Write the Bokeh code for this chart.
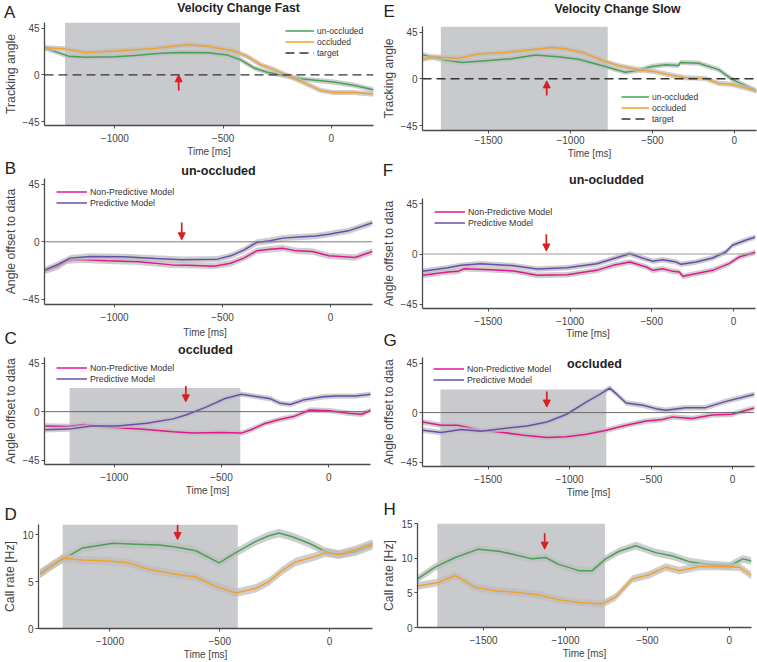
import numpy as np
from bokeh.plotting import figure
from bokeh.models import (Range1d, FixedTicker, Label, Legend, LegendItem, Arrow,
                          NormalHead, Span)
from bokeh.layouts import column, row
from bokeh.embed import file_html
from bokeh.resources import INLINE

# ---------------- data ----------------
x_fast = [-1325, 195]
x_slow = [-1903, 135]
ticks_fast = [-1000, -500, 0]
ticks_slow = [-1500, -1000, -500, 0]
ticks_angle = [-45, 0, 45]
ticks_rate_fast = [0, 5, 10]
ticks_rate_slow = [0, 5, 10, 15]

# A: tracking angle, fast
a_un_t = [-1325, -1214, -1138, -1000, -908, -786, -694, -571, -479, -418, -357, -296, -204, -142, 10, 103, 195]
a_un_v = [26, 18, 17, 17.5, 18.5, 20.7, 21.6, 21.3, 19, 14.4, 6.6, 2.5, -1.3, -3.8, -7, -10, -14.4]
a_oc_t = [-1325, -1230, -1138, -1000, -832, -694, -663, -571, -449, -387, -326, -265, -188, -112, -50, 10, 103, 195]
a_oc_v = [26, 25, 21.6, 23, 25, 28.5, 29, 27.6, 23, 17.5, 9.7, 5, -2, -9, -15, -17, -17, -18.5]

# E: tracking angle, slow
e_un_t = [-1903, -1765, -1663, -1500, -1358, -1215, -1073, -950, -788, -666, -584, -503, -421, -340, -330, -218, -96, -14, 135]
e_un_v = [23, 18, 15.7, 17.5, 19.4, 22.9, 21.3, 18.8, 11.9, 6.3, 8.2, 11.9, 13.5, 12.9, 15.7, 15, 8.8, -0.6, -11.6]
e_oc_t = [-1903, -1826, -1683, -1561, -1398, -1256, -1113, -1032, -910, -788, -706, -584, -482, -401, -299, -177, -96, -14, 135]
e_oc_v = [18.8, 21, 19.7, 23.8, 25.4, 27.6, 30, 29, 24.5, 16.6, 12.5, 8.8, 6.9, 4, 1, 0.3, -4.4, -5.3, -11.6]

# B: model offset, un-occluded, fast
b_np_t = [-1322, -1265, -1220, -1159, -1038, -886, -735, -659, -538, -462, -402, -341, -280, -220, -159, -83, -8, 114, 195]
b_np_v = [-22.8, -19.6, -14.9, -13.9, -14.9, -15.7, -18.1, -18.3, -19.1, -16.8, -12.8, -7.1, -5.8, -5, -7.1, -7.6, -11, -12.3, -7.6]
b_pr_t = [-1322, -1265, -1205, -1114, -962, -811, -689, -523, -462, -402, -341, -280, -220, -129, -68, -8, 83, 195]
b_pr_v = [-22, -18, -12.8, -11.5, -11.8, -13.1, -14.1, -13.6, -11, -6.5, -0.5, 0.8, 2.9, 3.9, 4.5, 6, 8.6, 14.9]

# C: model offset, occluded, fast
c_np_t = [-1322, -1213, -1137, -1030, -878, -726, -635, -498, -407, -362, -301, -225, -164, -88, 3, 94, 155, 198]
c_np_v = [-13.2, -13.8, -11.9, -14.4, -16.2, -18.7, -19.9, -19.3, -19.9, -16.8, -11.3, -7, -4.6, 1.5, 0.9, -1.5, -2.4, 1.5]
c_pr_t = [-1322, -1213, -1106, -985, -848, -726, -666, -574, -483, -407, -331, -271, -225, -179, -119, -27, 33, 125, 198]
c_pr_v = [-16.8, -16.2, -13.2, -13.2, -10.7, -6.7, -3.1, 4, 12.2, 16.2, 13.8, 11.9, 7.7, 6.7, 10.7, 13.8, 14.4, 14.4, 16.2]

# D: call rate, fast
d_un_t = [-1318, -1261, -1200, -1124, -1064, -988, -882, -776, -700, -609, -503, -427, -336, -276, -230, -170, -94, -18, 42, 118, 198]
d_un_v = [5.9, 6.8, 7.6, 8.6, 8.8, 9.1, 9.0, 8.9, 8.7, 8.3, 7.0, 8.1, 9.3, 9.9, 10.2, 9.8, 9.1, 8.2, 7.9, 8.2, 8.9]
d_oc_t = [-1318, -1215, -1124, -1003, -912, -821, -700, -609, -518, -427, -336, -276, -215, -155, -64, -18, 42, 118, 198]
d_oc_v = [5.8, 7.5, 7.3, 7.2, 7.0, 6.3, 5.8, 5.5, 4.5, 3.8, 4.3, 5.0, 6.2, 7.1, 7.7, 8.1, 7.9, 8.4, 9.1]

# F: model offset, un-occluded, slow
f_np_t = [-1903, -1748, -1687, -1647, -1485, -1343, -1201, -1019, -837, -736, -634, -533, -493, -432, -371, -331, -310, -209, -128, -27, 34, 135]
f_np_v = [-19.2, -16.2, -15.6, -13.2, -14.1, -15.3, -19.2, -18.6, -14.7, -10.2, -7.2, -11.7, -14.7, -13.2, -15.6, -16.2, -20.1, -17.1, -14.7, -8.7, -2.7, 1.5]
f_pr_t = [-1903, -1748, -1667, -1546, -1343, -1201, -1019, -837, -736, -634, -533, -493, -432, -351, -320, -229, -128, -47, -6, 74, 135]
f_pr_v = [-15.6, -12.3, -10.2, -8.7, -10.5, -13.5, -12.3, -8.7, -4.2, 0.3, -4.8, -6.6, -5.1, -7.2, -9.3, -7.2, -3.6, 1.8, 7.8, 12.3, 15.3]

# G: model offset, occluded, slow
g_np_t = [-1903, -1788, -1687, -1545, -1423, -1281, -1139, -1018, -896, -774, -673, -531, -430, -369, -247, -126, -4, 135]
g_np_v = [-8.5, -11.5, -11.5, -16, -17.8, -20.5, -22.7, -22, -19.6, -16, -12.1, -7.6, -6.3, -3.9, -5.4, -2.1, -1.5, 4.2]
g_pr_t = [-1903, -1788, -1666, -1545, -1403, -1261, -1139, -1018, -896, -815, -754, -714, -653, -551, -470, -409, -288, -166, -45, 135]
g_pr_v = [-16, -18.1, -15.4, -16.9, -14.5, -12.1, -8.5, -1.5, 9.7, 16.6, 22.3, 17.2, 8.8, 6.6, 3.6, 2.1, 4.5, 4.5, 10, 16.6]

# H: call rate, slow
h_un_t = [-1903, -1796, -1673, -1531, -1408, -1327, -1204, -1122, -1041, -918, -837, -755, -673, -571, -449, -347, -245, -122, 0, 82, 135]
h_un_v = [7.0, 8.7, 10.1, 11.3, 11.0, 10.6, 9.9, 10.1, 9.1, 8.2, 8.2, 9.9, 11.0, 11.8, 10.8, 10.3, 9.5, 9.1, 8.9, 9.9, 9.6]
h_oc_t = [-1903, -1776, -1673, -1551, -1429, -1306, -1163, -1041, -918, -776, -694, -592, -490, -388, -306, -184, -61, 61, 135]
h_oc_v = [6.0, 6.5, 7.5, 5.8, 5.3, 5.1, 4.7, 4.0, 3.6, 3.4, 4.4, 7.0, 7.6, 8.7, 8.2, 8.8, 8.8, 8.7, 7.5]

sem_angle = 2.5
sem_rate_fast = 0.45
sem_rate_slow = 0.55

# y ranges of the panels
yr_A = [-48.8, 50.4]
yr_E = [-49.7, 50.3]
yr_B = [-49.2, 49.7]
yr_F = [-49.0, 49.9]
yr_C = [-49.0, 50.2]
yr_G = [-49.0, 50.1]
yr_D = [0, 11.1]
yr_H = [0, 15]

# occlusion windows: [start, end, top]
occ_A = [-1230, -422, 50.4]
occ_C = [-1208, -412, 22]
occ_D = [-1215, -418, 11.1]
occ_E = [-1791, -773, 50.3]
occ_G = [-1793, -775, 21]
occ_H = [-1782, -759, 15]

# red arrows: [time, y_start, y_end]
arr_A = [-705, -15, 0]
arr_E = [-1145, -16, -2]
arr_B = [-689, 15.2, 1.6]
arr_F = [-1145, 17.8, 2.7]
arr_C = [-666, 23.7, 9.1]
arr_G = [-1140, 19.3, 5.1]
arr_D = [-692, 11.1, 9.5]
arr_H = [-1127, 13.6, 11.3]

target_angle = 0

# ---------------- style / geometry (page pixels) ----------------
FONT = "Liberation Sans"
GREEN = "#46a057"
ORANGE = "#f2a12c"
PINK = "#e3168c"
PURPLE = "#6a4cae"
BOXC = "#c9cacd"
BANDC = "#bdbdbd"
RED = "#d8201f"
AXC = "#4a4a4a"
TXC = "#444444"
MID = 0.35   # cap-centre above the baseline, in em
LETTER = 17

COLS = {"L": (0, 378), "R": (378, 757)}


def R(v):
    return int(round(v))


def col_width(c):
    x0, x1 = COLS[c]
    return x1 - x0


def make_strip(c, y0, y1, texts):
    x0, _ = COLS[c]
    h = y1 - y0
    p = figure(width=col_width(c), height=h, x_range=Range1d(0, 1), y_range=Range1d(0, 1),
               output_backend="svg", toolbar_location=None, title_location=None,
               x_axis_location=None, y_axis_location=None, frame_align=False,
               min_border_left=0, min_border_right=0, min_border_top=0, min_border_bottom=0)
    p.outline_line_color = None
    p.xgrid.visible = False
    p.ygrid.visible = False
    for text, xr, base, size, bold, align in texts:
        yc = base - MID * size
        p.add_layout(Label(x=xr - x0, y=y1 - yc, x_units="screen", y_units="screen",
                           text=text, text_font=FONT, text_font_size=f"{size}px",
                           text_font_style="bold" if bold else "normal",
                           text_color="#222222" if size > 11 else TXC,
                           text_align=align, text_baseline="middle"))
    return p


def make_fig(c, y0, y1, ftop, fbot, fl, fr, xr, yr, xticks, yticks, ylabel, xlabel=True,
             xstand=5, xlstand=1):
    x0, _ = COLS[c]
    W = col_width(c)
    bl = R(fl - x0)
    br = W - R(fr - x0)
    bt = R(ftop - y0)
    bb = R(y1 - fbot)
    p = figure(width=W, height=y1 - y0, x_range=Range1d(*xr), y_range=Range1d(*yr),
               output_backend="svg", toolbar_location=None, title_location=None, frame_align=False,
               min_border_left=bl, min_border_right=br, min_border_top=bt, min_border_bottom=bb)
    p.outline_line_color = None
    p.xgrid.visible = False
    p.ygrid.visible = False
    p.background_fill_color = "white"
    p.border_fill_color = "white"
    xa = p.xaxis[0]
    ya = p.yaxis[0]
    xa.ticker = FixedTicker(ticks=xticks)
    ya.ticker = FixedTicker(ticks=yticks)
    for ax in (xa, ya):
        ax.axis_line_color = AXC
        ax.axis_line_width = 1.3
        ax.major_tick_line_color = AXC
        ax.major_tick_out = 3
        ax.major_tick_in = 0
        ax.minor_tick_line_color = None
        ax.major_label_text_font = FONT
        ax.major_label_text_font_size = "10px"
        ax.major_label_text_color = TXC
        ax.axis_label_text_font = FONT
        ax.axis_label_text_font_style = "normal"
        ax.axis_label_text_color = TXC
    if xlabel:
        xa.axis_label = "Time [ms]"
    xa.axis_label_text_font_size = "10px"
    xa.major_label_standoff = xstand
    xa.axis_label_standoff = xlstand
    ya.axis_label = ylabel
    ya.axis_label_text_font_size = "12.3px"
    ya.major_label_standoff = 2
    ya.axis_label_standoff = 2
    p._frame_ref = (y0 + bt, y1 - bb, x0 + bl)
    return p


def add_box(p, occ):
    p.quad(left=[occ[0]], right=[occ[1]], bottom=[p.y_range.start], top=[occ[2]],
           fill_color=BOXC, line_color=None)


def add_series(p, t, v, sem, color):
    t = np.array(t, dtype=float)
    v = np.array(v, dtype=float)
    p.varea(x=t, y1=v - sem, y2=v + sem, fill_color=BANDC, fill_alpha=0.75)
    return p.line(t, v, line_color=color, line_width=1.5)


def add_arrow(p, a):
    p.add_layout(Arrow(end=NormalHead(size=7, fill_color=RED, line_color=RED, line_width=1),
                       x_start=a[0], y_start=a[1], x_end=a[0], y_end=a[2],
                       line_color=RED, line_width=1.7))


def add_legend(p, items, glyph_left, row1, gw, pitch, size):
    ftop, fbot, fl = p._frame_ref
    fh = fbot - ftop
    top = (row1 - ftop) - pitch / 2
    loc_y = fh - top - len(items) * pitch
    loc_x = glyph_left - fl
    leg = Legend(items=[LegendItem(label=l, renderers=[r]) for l, r in items],
                 location=(R(loc_x), R(loc_y)))
    leg.border_line_color = None
    leg.background_fill_alpha = 0
    leg.padding = 0
    leg.margin = 0
    leg.spacing = 0
    leg.glyph_width = R(gw)
    leg.glyph_height = pitch
    leg.label_height = pitch
    leg.label_standoff = 3
    leg.label_text_font = FONT
    leg.label_text_font_size = f"{size}px"
    leg.label_text_color = "#333333"
    leg.label_text_baseline = "middle"
    p.add_layout(leg)


def add_frame_text(p, text, xc, base, size):
    ftop, fbot, fl = p._frame_ref
    yc = base - MID * size
    p.add_layout(Label(x=xc - fl, y=fbot - yc, x_units="screen", y_units="screen",
                       text=text, text_font=FONT, text_font_size=f"{size}px", text_font_style="bold",
                       text_color="#222222", text_align="center", text_baseline="middle"))


# ================= left column =================
sA = make_strip("L", 0, 22, [("A", 3.5, 18.0, LETTER, False, "left"),
                             ("Velocity Change Fast", 238, 11.5, 12.2, True, "center")])
pA = make_fig("L", 22, 159, 22, 127.3, 42, 373, x_fast, yr_A, ticks_fast, ticks_angle, "Tracking angle")
add_box(pA, occ_A)
rA1 = add_series(pA, a_un_t, a_un_v, sem_angle, GREEN)
rA2 = add_series(pA, a_oc_t, a_oc_v, sem_angle, ORANGE)
rA3 = pA.line(x_fast, [target_angle, target_angle], line_color="#333333", line_width=1.4, line_dash="9 5")
add_arrow(pA, arr_A)
add_legend(pA, [("un-occluded", rA1), ("occluded", rA2), ("target", rA3)], 282.7, 32.3, 29, 11, 8.5)

sB = make_strip("L", 159, 178, [("B", 4.3, 174.4, LETTER, False, "left"),
                                ("un-occluded", 218, 175.3, 12.5, True, "center")])
pB = make_fig("L", 178, 324, 178, 304, 37, 372, x_fast, yr_B, ticks_fast, ticks_angle,
              "Angle offset to data", xlabel=False)
pB.add_layout(Span(location=0, dimension="width", line_color="#7a7a7a", line_width=1))
rB1 = add_series(pB, b_np_t, b_np_v, sem_angle, PINK)
rB2 = add_series(pB, b_pr_t, b_pr_v, sem_angle, PURPLE)
add_arrow(pB, arr_B)
add_legend(pB, [("Non-Predictive Model", rB1), ("Predictive Model", rB2)], 49.3, 191, 30.7, 11, 8.8)

sC = make_strip("L", 324, 357, [("Time [ms]", 204.5, 335, 10, False, "center"),
                                ("C", 4, 344, LETTER, False, "left"),
                                ("occluded", 205, 354, 12.5, True, "center")])
pC = make_fig("L", 357, 498, 357, 465.7, 36, 370, x_fast, yr_C, ticks_fast, ticks_angle,
              "Angle offset to data")
add_box(pC, occ_C)
pC.add_layout(Span(location=0, dimension="width", line_color="#6a6a6a", line_width=1))
rC1 = add_series(pC, c_np_t, c_np_v, sem_angle, PINK)
rC2 = add_series(pC, c_pr_t, c_pr_v, sem_angle, PURPLE)
add_arrow(pC, arr_C)
add_legend(pC, [("Non-Predictive Model", rC1), ("Predictive Model", rC2)], 48.3, 369.3, 30.7, 11, 8.8)

sD = make_strip("L", 498, 524, [("D", 4, 520.4, LETTER, False, "left")])
pD = make_fig("L", 524, 662, 524.3, 629.3, 37.3, 371.7, x_fast, yr_D, ticks_fast, ticks_rate_fast,
              "Call rate [Hz]")
add_box(pD, occ_D)
add_series(pD, d_un_t, d_un_v, sem_rate_fast, GREEN)
add_series(pD, d_oc_t, d_oc_v, sem_rate_fast, ORANGE)
add_arrow(pD, arr_D)

# ================= right column =================
sE = make_strip("R", 0, 26, [("E", 383, 17.3, LETTER, False, "left"),
                             ("Velocity Change Slow", 617, 12.5, 12.2, True, "center")])
pE = make_fig("R", 26, 161, 26, 132.7, 421, 756, x_slow, yr_E, ticks_slow, ticks_angle, "Tracking angle",
              xstand=2, xlstand=1)
add_box(pE, occ_E)
rE1 = add_series(pE, e_un_t, e_un_v, sem_angle, GREEN)
rE2 = add_series(pE, e_oc_t, e_oc_v, sem_angle, ORANGE)
rE3 = pE.line(x_slow, [target_angle, target_angle], line_color="#333333", line_width=1.4, line_dash="9 5")
add_arrow(pE, arr_E)
add_legend(pE, [("un-occluded", rE1), ("occluded", rE2), ("target", rE3)], 619.7, 99.3, 28.3, 11, 8.5)

sF = make_strip("R", 161, 190, [("F", 382.3, 176.4, LETTER, False, "left"),
                                ("un-ocludded", 606, 184, 12.5, True, "center")])
pF = make_fig("R", 190, 327, 198.3, 307.7, 419.7, 754.7, x_slow, yr_F, ticks_slow, ticks_angle,
              "Angle offset to data", xlabel=False)
pF.add_layout(Span(location=0, dimension="width", line_color="#9a9a9a", line_width=1))
rF1 = add_series(pF, f_np_t, f_np_v, sem_angle, PINK)
rF2 = add_series(pF, f_pr_t, f_pr_v, sem_angle, PURPLE)
add_arrow(pF, arr_F)
add_legend(pF, [("Non-Predictive Model", rF1), ("Predictive Model", rF2)], 432.3, 211, 30.7, 11, 8.8)

sG = make_strip("R", 327, 357, [("Time [ms]", 587.5, 336.3, 10, False, "center"),
                                ("G", 383, 345.5, LETTER, False, "left")])
pG = make_fig("R", 357, 500, 357, 466.7, 419.7, 754, x_slow, yr_G, ticks_slow, ticks_angle,
              "Angle offset to data")
add_box(pG, occ_G)
pG.add_layout(Span(location=0, dimension="width", line_color="#6a6a6a", line_width=1))
rG1 = add_series(pG, g_np_t, g_np_v, sem_angle, PINK)
rG2 = add_series(pG, g_pr_t, g_pr_v, sem_angle, PURPLE)
add_arrow(pG, arr_G)
add_legend(pG, [("Non-Predictive Model", rG1), ("Predictive Model", rG2)], 431.3, 369.3, 30.7, 11, 8.8)
add_frame_text(pG, "occluded", 592, 369.3, 12.5)

sH = make_strip("R", 500, 519, [("H", 383, 515.2, LETTER, False, "left")])
pH = make_fig("R", 519, 662, 522.7, 627.3, 417.3, 750.7, x_slow, yr_H, ticks_slow, ticks_rate_slow,
              "Call rate [Hz]")
add_box(pH, occ_H)
add_series(pH, h_un_t, h_un_v, sem_rate_slow, GREEN)
add_series(pH, h_oc_t, h_oc_v, sem_rate_slow, ORANGE)
add_arrow(pH, arr_H)

left = column(sA, pA, sB, pB, sC, pC, sD, pD, spacing=0)
right = column(sE, pE, sF, pF, sG, pG, sH, pH, spacing=0)
layout = row(left, right, spacing=0)

open("out.html", "w").write(file_html(layout, INLINE))
